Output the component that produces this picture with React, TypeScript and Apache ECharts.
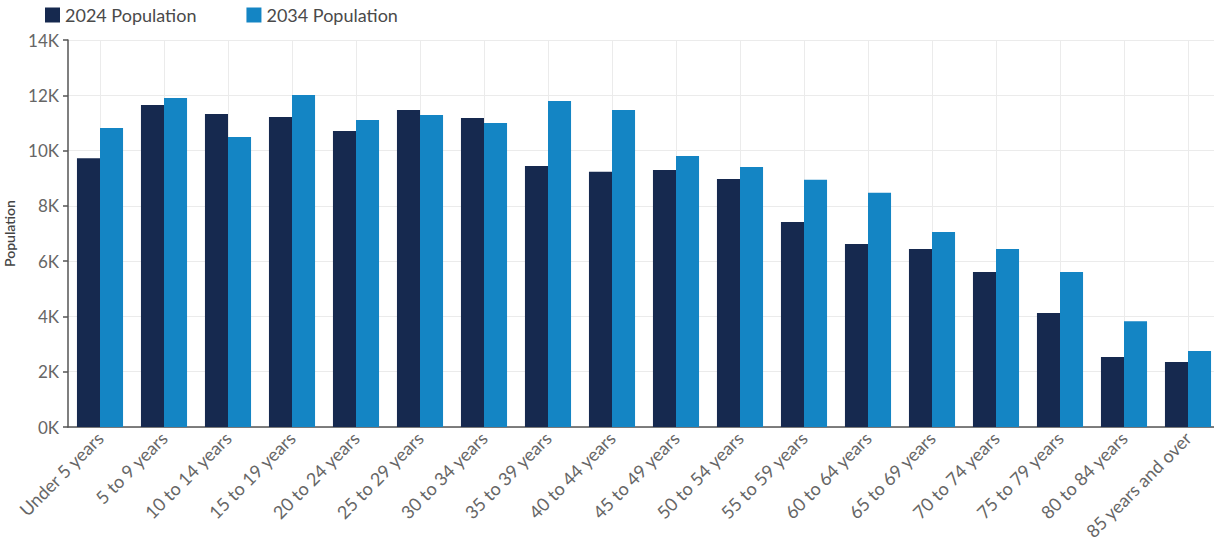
import React, { useEffect, useRef } from "react";
import * as echarts from "echarts";

const categories = [
  "Under 5 years", "5 to 9 years", "10 to 14 years", "15 to 19 years", "20 to 24 years",
  "25 to 29 years", "30 to 34 years", "35 to 39 years", "40 to 44 years", "45 to 49 years",
  "50 to 54 years", "55 to 59 years", "60 to 64 years", "65 to 69 years", "70 to 74 years",
  "75 to 79 years", "80 to 84 years", "85 years and over",
];
const pop2024 = [9720, 11650, 11320, 11210, 10710, 11470, 11180, 9440, 9230, 9300, 8970, 7420, 6620, 6440, 5610, 4120, 2530, 2350];
const pop2034 = [10820, 11900, 10490, 12010, 11110, 11290, 11000, 11790, 11470, 9800, 9410, 8940, 8470, 7050, 6440, 5610, 3830, 2750];
const seriesNames = ["2024 Population", "2034 Population"];

export default function App() {
  const ref = useRef<HTMLDivElement>(null);
  useEffect(() => {
    if (!ref.current) return;
    const chart = echarts.init(ref.current, null, { renderer: "svg" });
    chart.setOption({
      animation: false,
      textStyle: { fontFamily: "Lato" },
      legend: {
        left: 40,
        top: 1,
        itemWidth: 15,
        itemHeight: 15,
        itemGap: 50,
        icon: "rect",
        textStyle: { fontSize: 18, color: "#4a4a4a", fontFamily: "Lato" },
        data: seriesNames,
      },
      grid: { left: 68, right: -6, top: 40, bottom: 124, outerBoundsMode: "none", containLabel: false },
      xAxis: {
        type: "category",
        data: categories,
        axisLine: { lineStyle: { color: "#555", width: 1.5 } },
        axisTick: { alignWithLabel: true, lineStyle: { color: "#555", width: 1.5 }, length: 5 },
        axisLabel: { rotate: 45, fontSize: 18, color: "#666", margin: 8, interval: 0, fontFamily: "Lato" },
        splitLine: { show: true, alignWithLabel: true, lineStyle: { color: "#ebebeb" } },
      },
      yAxis: {
        type: "value",
        min: 0,
        max: 14000,
        interval: 2000,
        name: "Population",
        nameLocation: "middle",
        nameGap: 52,
        nameRotate: 90,
        nameTextStyle: { fontSize: 14, color: "#444", fontWeight: 600, fontFamily: "Lato" },
        axisLine: { show: true, lineStyle: { color: "#555", width: 1.5 } },
        axisTick: { show: true, length: 5, lineStyle: { color: "#555", width: 1.5 } },
        axisLabel: {
          fontSize: 17,
          color: "#666",
          margin: 9,
          fontFamily: "Lato",
          formatter: (v: number) => `${v / 1000}K`,
        },
        splitLine: { lineStyle: { color: "#ebebeb" } },
      },
      series: [
        {
          name: seriesNames[0],
          type: "bar",
          data: pop2024,
          itemStyle: { color: "#16294f" },
          barGap: "0%",
          barCategoryGap: "28%",
        },
        {
          name: seriesNames[1],
          type: "bar",
          data: pop2034,
          itemStyle: { color: "#1485c4" },
          barGap: "0%",
          barCategoryGap: "28%",
        },
      ],
    });
    return () => chart.dispose();
  }, []);
  return (
    <div
      ref={ref}
      style={{ position: "fixed", left: 0, top: 0, width: 1214, height: 551, background: "#fff" }}
    />
  );
}
